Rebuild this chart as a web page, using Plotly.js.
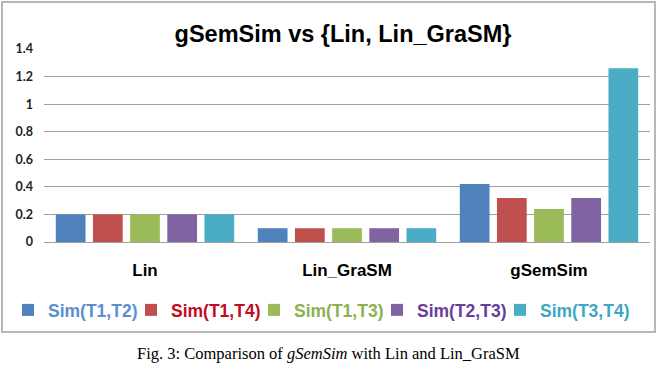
<!DOCTYPE html>
<html>
<head>
<meta charset="utf-8">
<script src="https://cdn.plot.ly/plotly-3.0.1.min.js"></script>
<style>html,body{margin:0;padding:0;background:#fff;}#chart{width:657px;height:365px;}</style>
</head>
<body>
<div id="chart"></div>
<script>
const categories = ["Lin", "Lin_GraSM", "gSemSim"];
const seriesNames = ["Sim(T1,T2)", "Sim(T1,T4)", "Sim(T1,T3)", "Sim(T2,T3)", "Sim(T3,T4)"];
const simT1T2 = [0.2, 0.1, 0.42];
const simT1T4 = [0.2, 0.1, 0.32];
const simT1T3 = [0.2, 0.1, 0.24];
const simT2T3 = [0.2, 0.1, 0.32];
const simT3T4 = [0.2, 0.1, 1.26];
const seriesValues = [simT1T2, simT1T4, simT1T3, simT2T3, simT3T4];
const barColors = ["#4F81BD", "#C0504D", "#9BBB59", "#8064A2", "#4BACC6"];
const legendTextColors = ["#5B8FD0", "#C40A1E", "#8DB050", "#6A3D9A", "#3FA6C4"];
const yTicks = [0, 0.2, 0.4, 0.6, 0.8, 1, 1.2, 1.4];

const traces = seriesNames.map((n, i) => ({
  type: "bar",
  x: categories,
  y: seriesValues[i],
  name: '<span style="color:' + legendTextColors[i] + '">' + n + '</span>',
  marker: { color: barColors[i] },
  legendwidth: i === seriesNames.length - 1 ? 100 : 78,
  hoverinfo: "x+y"
}));

// plot area: x 44..650, y 49..242
const L = 44, R = 650, T = 49, B = 242;
const W = R - L, H = B - T;
const px = v => (v - L) / W;
const py = v => (B - v) / H;

const layout = {
  width: 657, height: 365,
  margin: { l: L, r: 657 - R, t: T, b: 365 - B, pad: 0 },
  paper_bgcolor: "#ffffff",
  plot_bgcolor: "#ffffff",
  barmode: "group",
  bargap: 0.08,
  bargroupgap: 0.2,
  title: {
    text: "gSemSim vs {Lin, Lin_GraSM}",
    font: { family: "Liberation Sans, Arial, sans-serif", size: 23.5, color: "#000", weight: "bold" },
    x: 343 / 657, xanchor: "center", y: 1 - 34 / 365, yanchor: "middle"
  },
  xaxis: {
    type: "category",
    showgrid: false,
    showline: false,
    zeroline: false,
    ticks: "",
    ticklabelstandoff: 16,
    tickfont: { family: "Liberation Sans, Arial, sans-serif", size: 17, color: "#000", weight: "bold" },
    fixedrange: true
  },
  yaxis: {
    range: [0, 1.4],
    tickvals: yTicks,
    ticktext: yTicks.map(String),
    showgrid: true,
    gridcolor: "#A0A0A0",
    gridwidth: 1,
    zeroline: true,
    zerolinecolor: "#A0A0A0",
    zerolinewidth: 1,
    showline: false,
    ticks: "",
    ticklabelstandoff: 10,
    tickfont: { family: "Lato, Open Sans, sans-serif", size: 12.5, color: "#222", weight: "bold" },
    fixedrange: true
  },
  showlegend: true,
  legend: {
    orientation: "h",
    x: px(8), xanchor: "left",
    y: py(310), yanchor: "middle",
    itemwidth: 30,
    entrywidthmode: "pixels",
    font: { family: "Liberation Sans, Arial, sans-serif", size: 17.5, weight: "bold" },
    bgcolor: "rgba(0,0,0,0)",
    traceorder: "normal"
  },
  shapes: [{
    type: "rect", xref: "paper", yref: "paper",
    x0: px(2), x1: px(655), y0: py(332), y1: py(2),
    line: { color: "#B8B8B8", width: 2 },
    fillcolor: "rgba(0,0,0,0)",
    layer: "below"
  }],
  annotations: [{
    xref: "paper", yref: "paper",
    x: px(328), y: py(353), xanchor: "center", yanchor: "middle",
    showarrow: false,
    text: "Fig. 3: Comparison of <i>gSemSim</i> with Lin and Lin_GraSM",
    font: { family: "Liberation Serif, Times New Roman, serif", size: 16.5, color: "#000" }
  }]
};

Plotly.newPlot("chart", traces, layout, { displayModeBar: false, staticPlot: true });
</script>
</body>
</html>
